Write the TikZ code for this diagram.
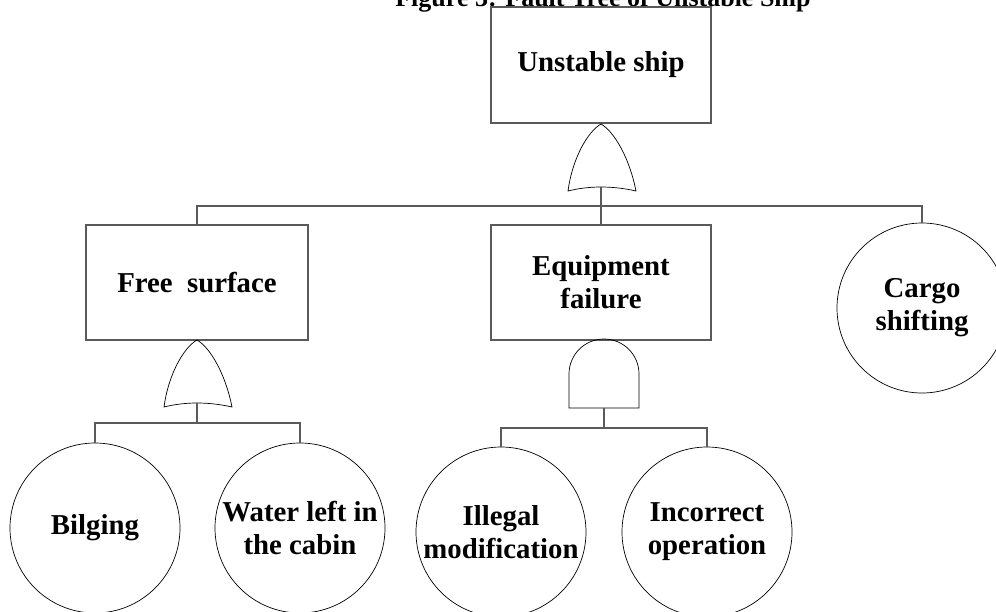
\documentclass[tikz,border=0pt]{standalone}
\usepackage{fontspec}
\setmainfont{Liberation Serif}
\definecolor{linegray}{HTML}{5A5A5A}
\tikzset{
  evbox/.style={draw=linegray, line width=1.1pt, minimum width=220pt, minimum height=116pt,
    inner sep=0pt, align=center, font=\fontsize{28.8}{33}\selectfont\bfseries},
  evcirc/.style={draw=black, line width=0.7pt, circle, minimum size=170pt, inner sep=0pt,
    align=center, font=\fontsize{28.8}{33}\selectfont\bfseries},
  conn/.style={draw=linegray, line width=1.1pt},
  gateline/.style={draw=black, line width=0.7pt},
  orgate/.pic={
    \draw[gateline] (-33,67) .. controls (-29,36) and (-14,8) .. (0,0)
      .. controls (14,8) and (29,36) .. (35,67)
      .. controls (22,64) and (10,63) .. (0,63)
      .. controls (-10,63) and (-21,64) .. cycle;
  },
  andgate/.pic={
    \draw[gateline] (-35,68) -- (-35,34) arc[start angle=180, end angle=360, radius=35] -- (35,68) -- cycle;
  }
}
\begin{document}
\begin{tikzpicture}[x=1pt,y=-1pt]
\useasboundingbox (0,0) rectangle (996,611);
% title (cropped at top, as in the reference)
\node[anchor=base, font=\fontsize{26}{30}\selectfont\bfseries, inner sep=0pt] (title) at (603,6) {Figure 3: Fault Tree of Unstable Ship};
% events
\node[evbox] (top) at (601,65) {Unstable ship};
\node[evbox, minimum width=222pt, minimum height=115pt] (fs) at (197,282.5) {Free\ \ surface};
\node[evbox, minimum height=115pt] (eq) at (601,282.5) {Equipment\\failure};
\node[evcirc] (cg) at (922,308) {Cargo\\shifting};
\node[evcirc] (bl) at (95,528) {Bilging};
\node[evcirc] (wl) at (300,528) {Water left in\\the cabin};
\node[evcirc] (im) at (501,532) {Illegal\\modification};
\node[evcirc] (io) at (707,532) {Incorrect\\operation};
% gates
\pic at (601,124) {orgate};
\pic at (197,340) {orgate};
\pic at (604,340) {andgate};
\coordinate (g1) at (601,187);
\coordinate (g2) at (197,403);
\coordinate (g3) at (604,408);
\coordinate (b1) at (601,206);
\coordinate (b2) at (197,423);
\coordinate (b3) at (604,428);
% connectors
\draw[conn] (g1) -- (eq.north);
\draw[conn] (fs.north) |- (b1) -| (cg.north);
\draw[conn] (g2) -- (b2);
\draw[conn] (bl.north) |- (b2) -| (wl.north);
\draw[conn] (g3) -- (b3);
\draw[conn] (im.north) |- (b3) -| (io.north);
\end{tikzpicture}
\end{document}
